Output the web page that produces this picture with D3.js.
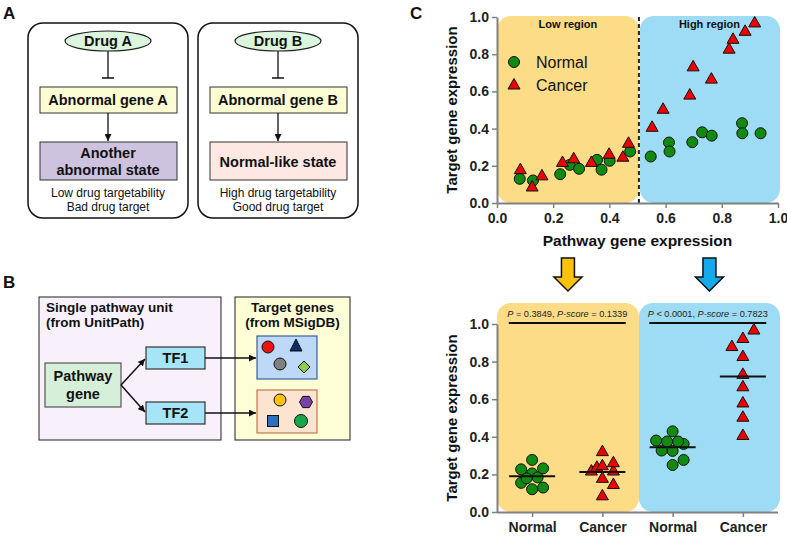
<!DOCTYPE html>
<html><head><meta charset="utf-8">
<script src="https://cdn.jsdelivr.net/npm/d3@7"></script>
<style>body{margin:0;background:#fff} svg{display:block} text{font-family:"Liberation Sans",Arial,sans-serif}</style>
</head><body><svg id="c" width="787" height="537"></svg>
<script>
// ---------- data ----------
const normalX = [0.081,0.128,0.225,0.259,0.292,0.356,0.372,0.401,0.474,0.547,0.612,0.614,0.695,0.730,0.764,0.872,0.873,0.938];
const normalY = [0.130,0.121,0.155,0.205,0.184,0.232,0.179,0.227,0.277,0.250,0.325,0.277,0.327,0.380,0.362,0.429,0.375,0.375];
const cancerX = [0.083,0.125,0.160,0.233,0.273,0.336,0.399,0.448,0.468,0.552,0.591,0.686,0.698,0.763,0.826,0.840,0.883,0.917];
const cancerY = [0.179,0.086,0.146,0.218,0.238,0.218,0.262,0.246,0.321,0.407,0.504,0.580,0.732,0.666,0.827,0.880,0.923,0.968];
const normalJitter = [1,0,-1,0,0.5,1,-0.5,-1,0, 0,0,1,-1,-1.5,1,0,-0.5,0.5];
const cancerJitter = [0,0,1,-1,-0.5,1,1,0,0, 0,0,0,0,0,0,-1,0,1];
const threshold = 0.505;
const groupLabels = ["Normal","Cancer","Normal","Cancer"];
const yTicks = [0,0.2,0.4,0.6,0.8,1.0];
const xTicks = [0,0.2,0.4,0.6,0.8,1.0];
const pTexts = [["P"," = 0.3849, ","P-score"," = 0.1339"],["P"," < 0.0001, ","P-score"," = 0.7823"]];
const regionLabels = ["Low region","High region"];

const svg = d3.select("#c");
const F = '"Liberation Sans",Arial,sans-serif';
const defs = svg.append("defs");
defs.append("marker").attr("id","ah").attr("viewBox","0 0 10 10").attr("refX",10).attr("refY",5)
  .attr("markerWidth",7).attr("markerHeight",7).attr("markerUnits","userSpaceOnUse").attr("orient","auto")
  .append("path").attr("d","M0,0 L10,5 L0,10 z").attr("fill","#111");

function txt(g,x,y,s,size,weight,anchor){
  return g.append("text").attr("x",x).attr("y",y).attr("font-size",size).attr("font-weight",weight||"normal")
    .attr("text-anchor",anchor||"start").attr("fill","#111").text(s);
}
// panel letters
txt(svg,3,19,"A",17,"bold");
txt(svg,3,288,"B",17,"bold");
txt(svg,410,19,"C",17,"bold");

// ---------- Panel A ----------
function panelA(x0, drug, gene, stateLines, fill, caps){
  const g = svg.append("g");
  const cx = x0+80;
  g.append("rect").attr("x",x0).attr("y",23).attr("width",160).attr("height",195).attr("rx",15)
    .attr("fill","#fff").attr("stroke","#111").attr("stroke-width",1.5);
  g.append("ellipse").attr("cx",cx).attr("cy",41).attr("rx",43).attr("ry",10)
    .attr("fill","#dcf5dd").attr("stroke","#222").attr("stroke-width",1.2);
  txt(g,cx,46,drug,14.5,"bold","middle");
  g.append("line").attr("x1",cx).attr("x2",cx).attr("y1",51).attr("y2",78).attr("stroke","#111").attr("stroke-width",1.3);
  g.append("line").attr("x1",cx-6).attr("x2",cx+6).attr("y1",78).attr("y2",78).attr("stroke","#111").attr("stroke-width",1.5);
  g.append("rect").attr("x",x0+12).attr("y",87).attr("width",137).attr("height",26)
    .attr("fill","#fdfdd4").attr("stroke","#333").attr("stroke-width",1);
  txt(g,cx,105,gene,14.5,"bold","middle");
  g.append("line").attr("x1",cx).attr("x2",cx).attr("y1",113).attr("y2",141).attr("stroke","#111").attr("stroke-width",1.3).attr("marker-end","url(#ah)");
  g.append("rect").attr("x",x0+12).attr("y",142).attr("width",137).attr("height",38)
    .attr("fill",fill).attr("stroke","#333").attr("stroke-width",1);
  if(stateLines.length===2){ txt(g,cx,158,stateLines[0],14.5,"bold","middle"); txt(g,cx,175,stateLines[1],14.5,"bold","middle"); }
  else txt(g,cx,167,stateLines[0],14.5,"bold","middle");
  txt(g,cx,197,caps[0],12,"normal","middle");
  txt(g,cx,211,caps[1],12,"normal","middle");
}
panelA(28,"Drug A","Abnormal gene A",["Another","abnormal state"],"#cec3df",["Low drug targetability","Bad drug target"]);
panelA(198,"Drug B","Abnormal gene B",["Normal-like state"],"#fde8e4",["High drug targetability","Good drug target"]);

// ---------- Panel B ----------
{
  const g = svg.append("g");
  g.append("rect").attr("x",39).attr("y",297).attr("width",182).attr("height",143).attr("fill","#f8f1fc").attr("stroke","#444").attr("stroke-width",1.2);
  txt(g,46,312,"Single pathway unit",13.5,"bold");
  txt(g,46,327,"(from UnitPath)",13.5,"bold");
  g.append("rect").attr("x",235).attr("y",297).attr("width",115).attr("height",143).attr("fill","#fefed6").attr("stroke","#444").attr("stroke-width",1.2);
  txt(g,292.5,312,"Target genes",13.5,"bold","middle");
  txt(g,292.5,327,"(from MSigDB)",13.5,"bold","middle");
  g.append("rect").attr("x",45).attr("y",363).attr("width",76).attr("height",44).attr("fill","#d6efd9").attr("stroke","#555").attr("stroke-width",1.2);
  txt(g,83,381,"Pathway",14.5,"bold","middle");
  txt(g,83,399,"gene",14.5,"bold","middle");
  [[347,"TF1"],[402,"TF2"]].forEach(([y,l])=>{
    g.append("rect").attr("x",146).attr("y",y).attr("width",59).attr("height",22).attr("fill","#a5e5f7").attr("stroke","#333").attr("stroke-width",1.2);
    txt(g,175.5,y+16,l,14.5,"bold","middle");
  });
  const ln=(x1,y1,x2,y2)=>g.append("line").attr("x1",x1).attr("y1",y1).attr("x2",x2).attr("y2",y2).attr("stroke","#111").attr("stroke-width",1.5).attr("marker-end","url(#ah)");
  ln(121,385,145,359); ln(121,385,145,412); ln(205,358,256,358); ln(205,413,256,413);
  g.append("rect").attr("x",257).attr("y",336).attr("width",60).attr("height",43).attr("fill","#bdd9f7").attr("stroke","#3b5f9a").attr("stroke-width",1.2);
  g.append("rect").attr("x",257).attr("y",390).attr("width",60).attr("height",43).attr("fill","#fde4d1").attr("stroke","#c07a48").attr("stroke-width",1.2);
  g.append("circle").attr("cx",268).attr("cy",347).attr("r",6).attr("fill","#ee1111").attr("stroke","#111");
  g.append("path").attr("d","M296,339 L302,351 L290,351 Z").attr("fill","#0d2e6b").attr("stroke","#111");
  g.append("circle").attr("cx",280).attr("cy",364).attr("r",6).attr("fill","#808080").attr("stroke","#111");
  g.append("path").attr("d","M304,361 L310,367 L304,373 L298,367 Z").attr("fill","#8fcb4f").attr("stroke","#111");
  g.append("circle").attr("cx",280).attr("cy",400).attr("r",6).attr("fill","#fbc200").attr("stroke","#111");
  const hx = d3.range(6).map(i=>{const a=Math.PI/3*i; return [306+6.5*Math.cos(a),402+6.5*Math.sin(a)];});
  g.append("path").attr("d","M"+hx.map(p=>p.join(",")).join("L")+"Z").attr("fill","#7b3fa8").attr("stroke","#111");
  g.append("rect").attr("x",267.5).attr("y",415.5).attr("width",11).attr("height",11).attr("fill","#2f6fc2").attr("stroke","#111");
  g.append("circle").attr("cx",301).attr("cy",421).attr("r",6.5).attr("fill","#1aa64b").attr("stroke","#111");
}

// ---------- Panel C (top scatter) ----------
const tri = "M0,-6.5 L6,4 L-6,4 Z";
const green = "#108a10", red = "#ee0000";
const x = d3.scaleLinear().domain([0,1]).range([497,778]);
const y = d3.scaleLinear().domain([0,1]).range([203,17]);
const gC = svg.append("g");
gC.append("rect").attr("x",x(0)).attr("y",16).attr("width",x(threshold)-x(0)).attr("height",y(0)-16).attr("rx",14).attr("fill","#fddc88");
gC.append("rect").attr("x",x(threshold)+1).attr("y",16).attr("width",780-x(threshold)-1).attr("height",y(0)-16).attr("rx",14).attr("fill","#9edcf6");
gC.append("line").attr("x1",x(threshold)).attr("x2",x(threshold)).attr("y1",17).attr("y2",y(0)).attr("stroke","#222").attr("stroke-width",2).attr("stroke-dasharray","4,3");
txt(gC,(x(0)+x(threshold))/2,28,regionLabels[0],11,"bold","middle");
txt(gC,(x(threshold)+780)/2,28,regionLabels[1],11,"bold","middle");

function styleAxis(a){
  a.select(".domain").attr("stroke","#808080").attr("stroke-width",2);
  a.selectAll(".tick line").attr("stroke","#808080").attr("stroke-width",1.5);
  a.selectAll(".tick text").attr("font-size",14).attr("font-weight","bold").attr("fill","#222").attr("font-family",F);
}
const ay = gC.append("g").attr("transform",`translate(${x(0)},0)`).call(d3.axisLeft(y).tickValues(yTicks).tickFormat(d3.format(".1f")).tickSize(5).tickSizeOuter(0));
styleAxis(ay);
const ax = gC.append("g").attr("transform",`translate(0,${y(0)})`).call(d3.axisBottom(x).tickValues(xTicks).tickFormat(d3.format(".1f")).tickSize(5).tickSizeOuter(0).tickPadding(5));
styleAxis(ax);
txt(gC,(x(0)+x(1))/2,246,"Pathway gene expression",15.5,"bold","middle");
gC.append("text").attr("transform",`translate(457,${(y(0)+y(1))/2}) rotate(-90)`).attr("text-anchor","middle")
  .attr("font-size",15).attr("font-weight","bold").attr("fill","#111").text("Target gene expression");

normalX.forEach((v,i)=>gC.append("circle").attr("cx",x(v)).attr("cy",y(normalY[i])).attr("r",5.5).attr("fill",green).attr("stroke","#111").attr("stroke-width",1));
cancerX.forEach((v,i)=>gC.append("path").attr("d",tri).attr("transform",`translate(${x(v)},${y(cancerY[i])})`).attr("fill",red).attr("stroke","#111").attr("stroke-width",1));
// legend
gC.append("circle").attr("cx",514).attr("cy",62).attr("r",5.5).attr("fill",green).attr("stroke","#111");
txt(gC,536,68,"Normal",16,"normal");
gC.append("path").attr("d",tri).attr("transform","translate(514,85)").attr("fill",red).attr("stroke","#111");
txt(gC,536,91,"Cancer",16,"normal");

// arrows
function downArrow(cx,fill){
  const t=258,b=291,h=277,sw=6.5,hw=14;
  svg.append("path").attr("d",`M${cx-sw},${t} L${cx+sw},${t} L${cx+sw},${h} L${cx+hw},${h} L${cx},${b} L${cx-hw},${h} L${cx-sw},${h} Z`)
    .attr("fill",fill).attr("stroke","#111").attr("stroke-width",1.5);
}
downArrow((x(0)+x(threshold))/2,"#fdc10e");
downArrow((x(threshold)+780)/2,"#14a9e9");

// ---------- Panel C (bottom dot plot) ----------
const groups = [
  {vals: normalY.filter((v,i)=>normalX[i]<threshold), jit: normalJitter.filter((v,i)=>normalX[i]<threshold), shape:"c"},
  {vals: cancerY.filter((v,i)=>cancerX[i]<threshold), jit: cancerJitter.filter((v,i)=>cancerX[i]<threshold), shape:"t"},
  {vals: normalY.filter((v,i)=>normalX[i]>=threshold), jit: normalJitter.filter((v,i)=>normalX[i]>=threshold), shape:"c"},
  {vals: cancerY.filter((v,i)=>cancerX[i]>=threshold), jit: cancerJitter.filter((v,i)=>cancerX[i]>=threshold), shape:"t"}
];
const xb = d3.scalePoint().domain([0,1,2,3]).range([497,778]).padding(0.5);
const yb = d3.scaleLinear().domain([0,1]).range([512,324]);
const gD = svg.append("g");
gD.append("rect").attr("x",497).attr("y",303).attr("width",142).attr("height",yb(0)-303).attr("rx",14).attr("fill","#fddc88");
gD.append("rect").attr("x",639).attr("y",303).attr("width",141).attr("height",yb(0)-303).attr("rx",14).attr("fill","#9edcf6");
[0,1].forEach(k=>{
  const c0 = xb(2*k), c1 = xb(2*k+1), mid=(c0+c1)/2;
  const t = gD.append("text").attr("x",mid).attr("y",317).attr("text-anchor","middle").attr("font-size",9.2).attr("fill","#222");
  pTexts[k].forEach((s,j)=>t.append("tspan").attr("font-style",j%2===0?"italic":"normal").text(s));
  gD.append("line").attr("x1",mid-58.5).attr("x2",mid+58.5).attr("y1",323).attr("y2",323).attr("stroke","#111").attr("stroke-width",2);
});
const ayb = gD.append("g").attr("transform","translate(497,0)").call(d3.axisLeft(yb).tickValues(yTicks).tickFormat(d3.format(".1f")).tickSize(5).tickSizeOuter(0));
styleAxis(ayb);
const axb = gD.append("g").attr("transform",`translate(0,${yb(0)})`).call(d3.axisBottom(xb).tickFormat(i=>groupLabels[i]).tickSize(5).tickSizeOuter(0).tickPadding(5));
styleAxis(axb);
axb.select(".domain").attr("d","M497,0.5H778");
axb.selectAll(".tick text").attr("font-size",14);
gD.append("text").attr("transform",`translate(457,${(yb(0)+yb(1))/2}) rotate(-90)`).attr("text-anchor","middle")
  .attr("font-size",15).attr("font-weight","bold").attr("fill","#111").text("Target gene expression");
const jUnit = 11;
groups.forEach((gr,k)=>{
  const cx = xb(k);
  gr.vals.forEach((v,i)=>{
    if(gr.shape==="c") gD.append("circle").attr("cx",cx+gr.jit[i]*jUnit).attr("cy",yb(v)).attr("r",5.5).attr("fill",green).attr("stroke","#111");
    else gD.append("path").attr("d",tri).attr("transform",`translate(${cx+gr.jit[i]*jUnit},${yb(v)})`).attr("fill",red).attr("stroke","#111");
  });
  const m = d3.mean(gr.vals);
  gD.append("line").attr("x1",cx-23).attr("x2",cx+23).attr("y1",yb(m)).attr("y2",yb(m)).attr("stroke","#111").attr("stroke-width",2);
});
</script></body></html>
